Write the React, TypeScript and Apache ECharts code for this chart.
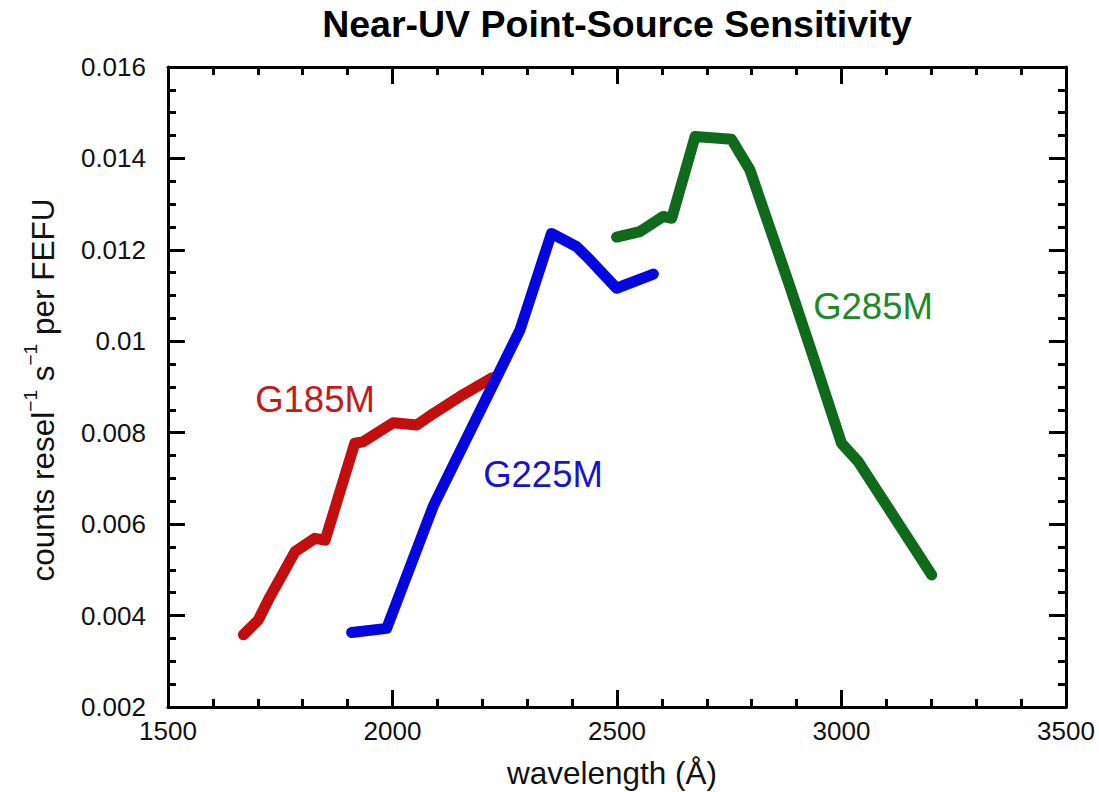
import React, { useEffect, useRef } from "react";
import * as echarts from "echarts";

const titleText = "Near-UV Point-Source Sensitivity";
const xAxisTitle = "wavelength (Å)";

const g185X = [1668, 1701, 1727, 1783, 1827, 1850, 1916, 1934, 2002, 2054, 2091, 2150, 2222];
const g185Y = [0.00358, 0.0039, 0.00441, 0.0054, 0.00569, 0.00565, 0.00777, 0.0078, 0.00822, 0.00817, 0.00842, 0.00879, 0.0092];

const g225X = [1909, 1987, 2091, 2136, 2284, 2354, 2410, 2440, 2499, 2581];
const g225Y = [0.00363, 0.00372, 0.0064, 0.0073, 0.01025, 0.01236, 0.01207, 0.01178, 0.01116, 0.01147];

const g285X = [2499, 2551, 2603, 2622, 2674, 2755, 2796, 2885, 2937, 3000, 3037, 3123, 3201];
const g285Y = [0.01228, 0.0124, 0.01273, 0.01269, 0.01448, 0.01442, 0.01375, 0.0112, 0.00966, 0.00777, 0.00737, 0.00607, 0.00489];

const seriesNames = ["G185M", "G225M", "G285M"];
const lineColors = ["#c40d0d", "#0505e0", "#0f6a1c"];
const labelColors = ["#c41a1a", "#1515d0", "#1c8a2a"];

const FONT = "'Liberation Sans', Arial, Helvetica, sans-serif";

function pairs(xs: number[], ys: number[]) {
  return xs.map((x, i) => [x, ys[i]]);
}

export default function App() {
  const ref = useRef<HTMLDivElement>(null);

  useEffect(() => {
    if (!ref.current) return;
    const chart = echarts.init(ref.current, undefined, { renderer: "svg" });

    const axisLine = { show: true, onZero: false, lineStyle: { color: "#000", width: 3 } };
    const tick = (len: number) => ({ show: true, inside: true, length: len, lineStyle: { color: "#000", width: 3 } });

    const xBase = (pos: "bottom" | "top", showLabel: boolean) => ({
      type: "value",
      position: pos,
      min: 1500,
      max: 3500,
      interval: 500,
      axisLine,
      axisTick: tick(17),
      minorTick: { show: true, splitNumber: 5, length: 8, lineStyle: { color: "#000", width: 3 } },
      splitLine: { show: false },
      minorSplitLine: { show: false },
      axisLabel: {
        show: showLabel,
        fontSize: 26,
        color: "#111",
        fontFamily: FONT,
        margin: 11,
        formatter: (v: number) => String(v),
      },
    });
    const yBase = (pos: "left" | "right", showLabel: boolean) => ({
      type: "value",
      position: pos,
      min: 0.002,
      max: 0.016,
      interval: 0.002,
      axisLine,
      axisTick: tick(17),
      minorTick: { show: true, splitNumber: 4, length: 8, lineStyle: { color: "#000", width: 3 } },
      splitLine: { show: false },
      minorSplitLine: { show: false },
      axisLabel: {
        show: showLabel,
        fontSize: 26,
        color: "#111",
        fontFamily: FONT,
        margin: 22,
        formatter: (v: number) => String(parseFloat(v.toFixed(4))),
      },
    });

    const datasets = [pairs(g185X, g185Y), pairs(g225X, g225Y), pairs(g285X, g285Y)];

    chart.setOption({
      animation: false,
      backgroundColor: "#fff",
      grid: { left: 168, right: 33, top: 67, bottom: 85 },
      xAxis: [xBase("bottom", true), xBase("top", false)],
      yAxis: [yBase("left", true), yBase("right", false)],
      series: datasets.map((d, i) => ({
        name: seriesNames[i],
        type: "line",
        xAxisIndex: 0,
        yAxisIndex: 0,
        data: d,
        showSymbol: false,
        symbol: "none",
        lineStyle: { color: lineColors[i], width: 11, cap: "round", join: "round" },
        z: 3,
      })),
      graphic: [
        {
          type: "text",
          x: 617,
          y: 24,
          style: {
            text: titleText,
            fontSize: 37.5,
            fontWeight: "bold",
            fontFamily: FONT,
            fill: "#000",
            align: "center",
            verticalAlign: "middle",
          },
        },
        {
          type: "text",
          x: 612,
          y: 773,
          style: {
            text: xAxisTitle,
            fontSize: 31.5,
            fontFamily: FONT,
            fill: "#111",
            align: "center",
            verticalAlign: "middle",
          },
        },
        {
          type: "text",
          x: 40,
          y: 390,
          rotation: Math.PI / 2,
          style: {
            text: "{n|counts resel}{s|−1}{n| s}{s|−1}{n| per FEFU}",
            fontFamily: FONT,
            fill: "#111",
            align: "center",
            verticalAlign: "middle",
            rich: {
              n: { fontSize: 31.5, fontFamily: FONT, fill: "#111", lineHeight: 38, verticalAlign: "bottom" },
              s: { fontSize: 19, fontFamily: FONT, fill: "#111", lineHeight: 19, verticalAlign: "top" },
            },
          },
        },
        {
          type: "text",
          x: 315,
          y: 399,
          style: { text: seriesNames[0], fontSize: 36.5, fontFamily: FONT, fill: labelColors[0], align: "center", verticalAlign: "middle" },
        },
        {
          type: "text",
          x: 543,
          y: 474,
          style: { text: seriesNames[1], fontSize: 36.5, fontFamily: FONT, fill: labelColors[1], align: "center", verticalAlign: "middle" },
        },
        {
          type: "text",
          x: 873,
          y: 306,
          style: { text: seriesNames[2], fontSize: 36.5, fontFamily: FONT, fill: labelColors[2], align: "center", verticalAlign: "middle" },
        },
      ],
    });

    return () => chart.dispose();
  }, []);

  return (
    <div
      ref={ref}
      style={{ position: "fixed", left: 0, top: 0, width: 1099, height: 792, background: "#fff" }}
    />
  );
}
